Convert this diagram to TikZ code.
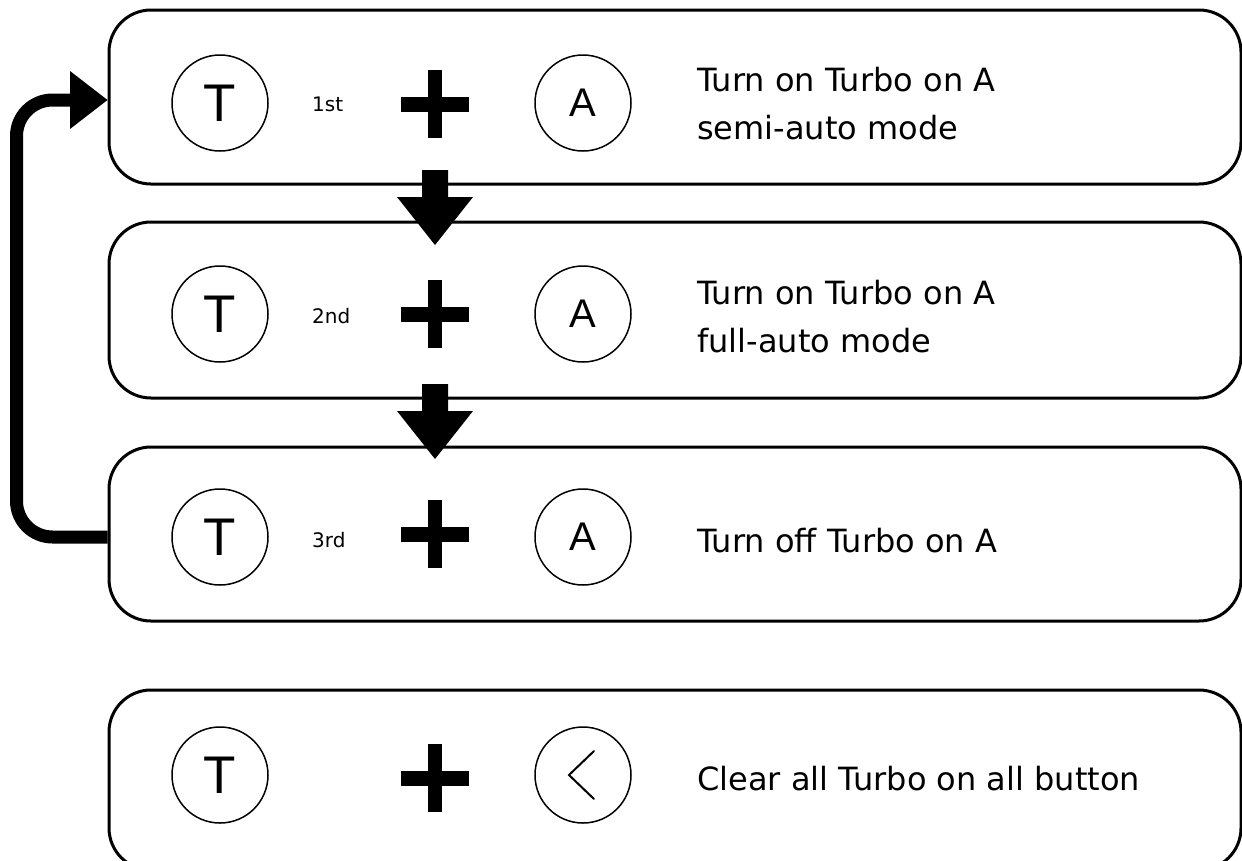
\documentclass[tikz,border=0pt]{standalone}
\usepackage{fontspec}
\setmainfont{DejaVu Sans}
\newfontfamily\btnfont{Liberation Sans}
\begin{document}
\begin{tikzpicture}[x=1pt,y=-1pt,
  box/.style={draw, line width=3pt, rounded corners=42pt, minimum width=1132pt, minimum height=174pt, inner sep=0},
  btn/.style={circle, draw, line width=1.5pt, minimum size=96pt, inner sep=0},
  tletter/.style={font=\btnfont\fontsize{53}{53}\selectfont},
  aletter/.style={font=\btnfont\fontsize{40}{40}\selectfont},
  lbl/.style={anchor=base west, inner sep=0, font=\fontsize{32}{32}\selectfont},
  ord/.style={anchor=base west, inner sep=0, font=\fontsize{20}{20}\selectfont},
  plus/.pic={\fill (-34,-7.5) rectangle (34,7.5); \fill (-7,-34) rectangle (7,34);}
]
\useasboundingbox (0,0) rectangle (1242,860);
\clip (0,0) rectangle (1242,860);
% boxes
\node[box] (b1) at (675,97) {};
\node[box, minimum height=176pt] (b2) at (675,310) {};
\node[box] (b3) at (675,534) {};
\node[box, minimum height=180pt] (b4) at (675,780) {};
% row 1
\node[btn, tletter] (t1) at (220,103) {T};
\node[ord] (o1) at (312,111) {1st};
\pic at (435,104) {plus};
\node[btn, aletter] (a1) at (583,103) {A};
\node[lbl] (l1a) at (697,91) {Turn on Turbo on A};
\node[lbl] (l1b) at (697,139) {semi-auto mode};
% row 2
\node[btn, tletter] (t2) at (220,314) {T};
\node[ord] (o2) at (312,323) {2nd};
\pic at (435,314) {plus};
\node[btn, aletter] (a2) at (583,314) {A};
\node[lbl] (l2a) at (697,304) {Turn on Turbo on A};
\node[lbl] (l2b) at (697,352) {full-auto mode};
% row 3
\node[btn, tletter] (t3) at (220,537) {T};
\node[ord] (o3) at (312,547) {3rd};
\pic at (435,534) {plus};
\node[btn, aletter] (a3) at (583,537) {A};
\node[lbl] (l3) at (697,552) {Turn off Turbo on A};
% row 4
\node[btn, tletter] (t4) at (220,775) {T};
\pic at (435,778) {plus};
\node[btn] (a4) at (583,775) {};
\draw[line width=2pt, line cap=round, line join=miter] ([shift={(11,-24)}]a4.center) -- ([shift={(-14,0)}]a4.center) -- ([shift={(11,24)}]a4.center);
\node[lbl] (l4) at (697,790) {Clear all Turbo on all button};
% down arrows
\fill (422,170) -- (448,170) -- (448,197) -- (473,197) -- (435,245) -- (397,197) -- (422,197) -- cycle;
\fill (422,384) -- (448,384) -- (448,411) -- (473,411) -- (435,459) -- (397,411) -- (422,411) -- cycle;
% loop arrow
\coordinate (lb) at (16.5,537);
\coordinate (lt) at (16.5,100);
\coordinate (lh) at (72,100);
\draw[line width=13pt, rounded corners=36pt] ([yshift=-3pt]b3.west) -- (lb) -- (lt) -- (lh);
\fill (70,71) -- ([yshift=-3pt]b1.west) -- (70,129) -- cycle;
\end{tikzpicture}
\end{document}
